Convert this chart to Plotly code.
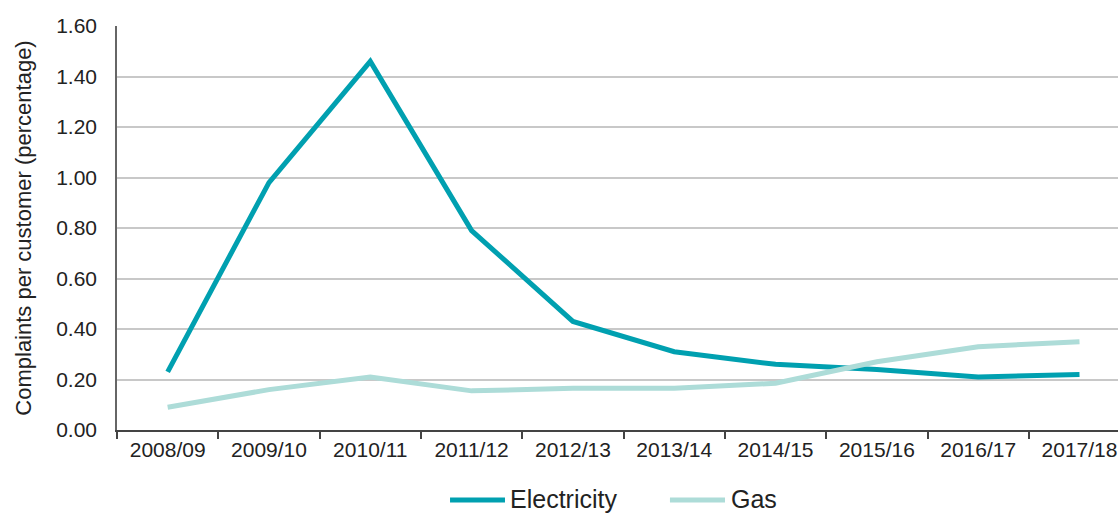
import plotly.graph_objects as go

# Complaints per customer by financial year
years = ["2008/09", "2009/10", "2010/11", "2011/12", "2012/13",
         "2013/14", "2014/15", "2015/16", "2016/17", "2017/18"]
electricity = [0.23, 0.98, 1.46, 0.79, 0.43, 0.31, 0.26, 0.24, 0.21, 0.22]
gas = [0.09, 0.16, 0.21, 0.155, 0.165, 0.165, 0.185, 0.27, 0.33, 0.35]
y_ticks = [0.0, 0.2, 0.4, 0.6, 0.8, 1.0, 1.2, 1.4, 1.6]

series = [("Electricity", electricity, "#00A0B0"), ("Gas", gas, "#ADDCD8")]

FONT = "Liberation Sans, Arial, sans-serif"
TEXT = "#222222"

fig = go.Figure()
for name, values, colour in series:
    fig.add_trace(go.Scatter(
        x=years, y=values, name=name, mode="lines",
        line=dict(color=colour, width=5),
    ))

# Legend keys drawn below the plot (longer swatches than the built-in legend)
legend_y = -0.173
legend_items = [
    # name, colour, swatch start, swatch end, label x (paper units)
    ("Electricity", "#00A0B0", 0.3327, 0.3876, 0.3906),
    ("Gas", "#ADDCD8", 0.5524, 0.6074, 0.6114),
]
for name, colour, x0, x1, tx in legend_items:
    fig.add_shape(type="line", xref="paper", yref="paper",
                  x0=x0, x1=x1, y0=legend_y, y1=legend_y,
                  line=dict(color=colour, width=5))
    fig.add_annotation(text=name, xref="paper", yref="paper",
                       x=tx, y=legend_y + 0.002, xanchor="left", yanchor="middle",
                       showarrow=False,
                       font=dict(size=25, family=FONT, color=TEXT))

fig.update_layout(
    width=1118, height=514,
    margin=dict(l=117, r=0, t=26, b=84),
    paper_bgcolor="white", plot_bgcolor="white",
    font=dict(family=FONT, color=TEXT),
    showlegend=False,
)

fig.update_xaxes(
    type="category", categoryorder="array", categoryarray=years,
    range=[-0.5, 9.38],
    showline=True, linecolor="#444444", linewidth=1.5,
    ticks="outside", tickson="boundaries", ticklen=7, tickcolor="#444444", tickwidth=1.5,
    showgrid=False, tickfont=dict(size=21, family=FONT, color=TEXT),
    automargin=False,
)

fig.update_yaxes(
    range=[0, 1.6], tickvals=y_ticks, tickformat=".2f",
    showline=True, linecolor="#666666", linewidth=1.5,
    showgrid=True, gridcolor="#C8C8C8", gridwidth=1.5,
    zeroline=False, ticks="outside", ticklen=14, tickcolor="rgba(0,0,0,0)",
    tickfont=dict(size=21, family=FONT, color=TEXT),
    title=dict(text="Complaints per customer (percentage)",
               font=dict(size=22, family=FONT, color=TEXT), standoff=18),
    automargin=False,
)

fig.write_html("out.html")
